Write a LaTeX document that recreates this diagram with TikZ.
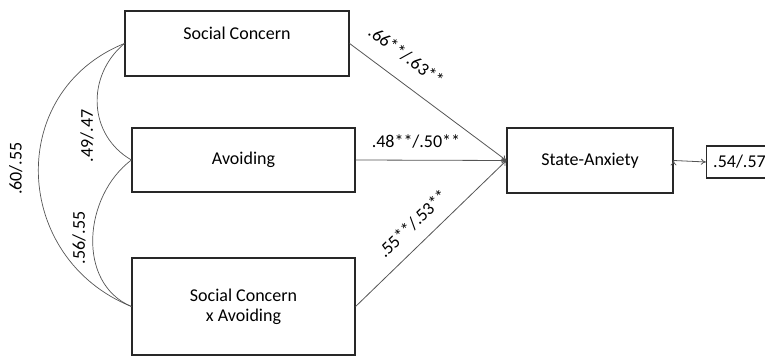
\documentclass[tikz,border=0pt]{standalone}
\usepackage{fontspec}
\setmainfont{Carlito}
\usetikzlibrary{positioning, arrows.meta}
\definecolor{cLine}{RGB}{85,85,85}
\definecolor{cBox}{RGB}{40,40,40}

\begin{document}
\begin{tikzpicture}[x=0.5pt, y=0.5pt, font=\fontsize{9}{10}\selectfont,
    box/.style={draw=cBox, line width=0.6pt, rectangle, align=center},
    effect/.style={draw=cLine, line width=0.4pt, -{To[length=2.5pt, width=3pt]}},
    cov/.style={draw=cLine, line width=0.35pt}]
    \useasboundingbox (0,0) rectangle (765,358);

    \node[box, minimum width=112pt, minimum height=32.5pt] (SC) at (237,314.5) {Social Concern\\ ~};
    \node[box, minimum width=111.5pt, minimum height=32pt] (Av) at (243.5,198) {Avoiding};
    \node[box, minimum width=111.5pt, minimum height=48.5pt] (SCxAv) at (243.5,51.5) {Social Concern\\x Avoiding};
    \node[box, minimum width=83pt, minimum height=32.5pt] (SA) at (590,197.5) {State-Anxiety};
    \node[box, minimum width=28.5pt, minimum height=16pt] (R2) at (739.5,196) {.54/.57};

    \path[effect]
    (SC.east) edge node[pos=0.27, sloped, above=5pt] {.66**/.63**} (SA.west)
    (Av.east) edge node[pos=0.4, sloped, above=2.5pt] {.48**/.50**} (SA.west)
    (SCxAv.east) edge node[pos=0.47, sloped, above=3pt] {.55**/.53**} (SA.west)
    (SA.east) edge (R2.west);

    \path[cov]
    (SC.west) edge[out=220, in=150, looseness=1.1] node[pos=0.75, left=3pt] {\rotatebox{90}{.49/.47}} (Av.west)
    (Av.west) edge[out=217, in=157, looseness=1.05] node[pos=0.5, left=0pt] {\rotatebox{90}{.56/.55}} (SCxAv.west)
    (SC.west) edge[out=202, in=158, looseness=1.25] node[pos=0.48, left=4.5pt] {\rotatebox{90}{.60/.55}} (SCxAv.west);
\end{tikzpicture}
\end{document}
